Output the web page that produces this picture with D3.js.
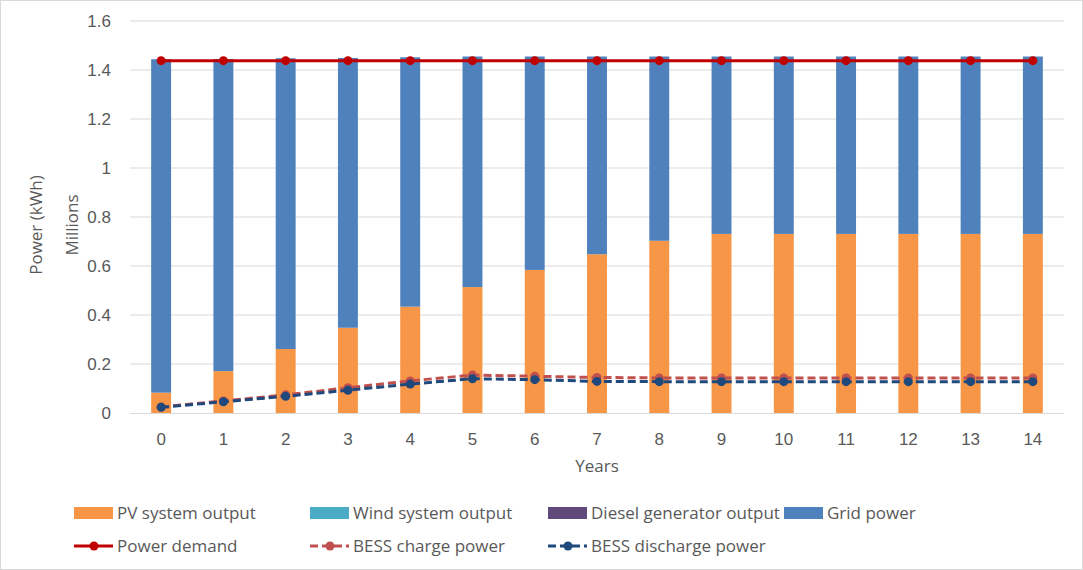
<!DOCTYPE html>
<html>
<head>
<meta charset="utf-8">
<script src="https://cdn.jsdelivr.net/npm/d3@7/dist/d3.min.js"></script>
<style>
  html, body { margin: 0; padding: 0; background: #fff; }
  svg { display: block; font-family: "Open Sans", Lato, "Liberation Sans", sans-serif; }
</style>
</head>
<body>
<svg id="chart" width="1083" height="570"></svg>
<script>
// Years on the horizontal axis
const years = [0, 1, 2, 3, 4, 5, 6, 7, 8, 9, 10, 11, 12, 13, 14];

// Energy sources, millions of kWh per year
const pvOutput     = [0.083, 0.171, 0.261, 0.348, 0.434, 0.514, 0.584, 0.648, 0.703, 0.731, 0.731, 0.731, 0.731, 0.731, 0.731];
const windOutput   = [0, 0, 0, 0, 0, 0, 0, 0, 0, 0, 0, 0, 0, 0, 0];
const dieselOutput = [0, 0, 0, 0, 0, 0, 0, 0, 0, 0, 0, 0, 0, 0, 0];
const gridPower    = [1.361, 1.274, 1.187, 1.101, 1.018, 0.941, 0.871, 0.807, 0.752, 0.724, 0.724, 0.724, 0.724, 0.724, 0.724];

// Demand and battery flows, millions of kWh per year
const powerDemand    = [1.438, 1.438, 1.438, 1.438, 1.438, 1.438, 1.438, 1.438, 1.438, 1.438, 1.438, 1.438, 1.438, 1.438, 1.438];
const bessCharge     = [0.025, 0.049, 0.074, 0.103, 0.131, 0.155, 0.150, 0.145, 0.143, 0.143, 0.143, 0.143, 0.143, 0.143, 0.143];
const bessDischarge  = [0.023, 0.046, 0.068, 0.093, 0.118, 0.140, 0.136, 0.129, 0.128, 0.128, 0.128, 0.128, 0.128, 0.128, 0.128];

const yTicks = [0, 0.2, 0.4, 0.6, 0.8, 1, 1.2, 1.4, 1.6];

const barSeries = [
  { key: "pv",     name: "PV system output",        color: "#F79646", values: pvOutput },
  { key: "wind",   name: "Wind system output",      color: "#4BACC6", values: windOutput },
  { key: "diesel", name: "Diesel generator output", color: "#604A7B", values: dieselOutput },
  { key: "grid",   name: "Grid power",              color: "#4F81BD", values: gridPower }
];
const lineSeries = [
  { key: "charge",    name: "BESS charge power",    color: "#C0504D", values: bessCharge,    dash: "8,4", width: 3, r: 4.5 },
  { key: "discharge", name: "BESS discharge power", color: "#1F497D", values: bessDischarge, dash: "8,4", width: 3, r: 4.5 },
  { key: "demand",    name: "Power demand",         color: "#C00000", values: powerDemand,   dash: null,  width: 3, r: 4.5 }
];

const svg = d3.select("#chart");
const W = 1083, H = 570;
const plot = { left: 130, right: 1064, top: 21, bottom: 413 };
const textColor = "#595959";
const gridColor = "#D9D9D9";
const fontSize = "17px";

// Outer frame
svg.append("rect").attr("x", 0.5).attr("y", 0.5).attr("width", W - 1).attr("height", H - 1)
  .attr("fill", "#fff").attr("stroke", "#D9D9D9");

const x = d3.scaleBand().domain(years).range([plot.left, plot.right]).paddingInner(0.68).paddingOuter(0.34);
const y = d3.scaleLinear().domain([0, 1.6]).range([plot.bottom, plot.top]);

// Horizontal gridlines
svg.append("g").selectAll("line").data(yTicks.filter(d => d > 0)).join("line")
  .attr("x1", plot.left).attr("x2", plot.right)
  .attr("y1", d => y(d)).attr("y2", d => y(d))
  .attr("stroke", gridColor).attr("stroke-width", 1);

// Y axis labels
const yAxis = d3.axisLeft(y).tickValues(yTicks).tickSize(0).tickPadding(0).tickFormat(d3.format("~g"));
const gy = svg.append("g").attr("transform", `translate(${plot.left - 19},0)`).call(yAxis);
gy.select(".domain").remove();
gy.selectAll("text").attr("fill", textColor).style("font-size", fontSize).style("font-family", "inherit");

// Stacked bars
const rows = years.map((yr, i) => {
  const r = { year: yr };
  barSeries.forEach(s => { r[s.key] = s.values[i]; });
  return r;
});
const stack = d3.stack().keys(barSeries.map(s => s.key));
const layers = stack(rows);
svg.append("g").selectAll("g").data(layers).join("g")
  .attr("fill", (d, i) => barSeries[i].color)
  .selectAll("rect").data(d => d).join("rect")
  .attr("x", d => x(d.data.year))
  .attr("width", x.bandwidth())
  .attr("y", d => y(d[1]))
  .attr("height", d => y(d[0]) - y(d[1]));

// X axis
const xAxis = d3.axisBottom(x).tickSize(0).tickPadding(20);
const gx = svg.append("g").attr("transform", `translate(0,${plot.bottom})`).call(xAxis);
gx.select(".domain").attr("stroke", gridColor).attr("d", `M${plot.left},0.5H${plot.right}`);
gx.selectAll("text").attr("fill", textColor).style("font-size", fontSize).style("font-family", "inherit");

// Lines with markers
lineSeries.forEach(s => {
  const line = d3.line().x((d, i) => x(years[i]) + x.bandwidth() / 2).y(d => y(d));
  const g = svg.append("g");
  g.append("path").datum(s.values)
    .attr("d", line).attr("fill", "none")
    .attr("stroke", s.color).attr("stroke-width", s.width)
    .attr("stroke-dasharray", s.dash);
  g.selectAll("circle").data(s.values).join("circle")
    .attr("cx", (d, i) => x(years[i]) + x.bandwidth() / 2)
    .attr("cy", d => y(d))
    .attr("r", s.r).attr("fill", s.color);
});

// Axis titles
svg.append("text").attr("transform", `translate(42,${(plot.top + plot.bottom) / 2 + 8}) rotate(-90)`)
  .attr("text-anchor", "middle").attr("fill", textColor).style("font-size", fontSize).text("Power (kWh)");
svg.append("text").attr("transform", `translate(78,${(plot.top + plot.bottom) / 2 + 8}) rotate(-90)`)
  .attr("text-anchor", "middle").attr("fill", textColor).style("font-size", fontSize).text("Millions");
svg.append("text").attr("x", (plot.left + plot.right) / 2).attr("y", 472)
  .attr("text-anchor", "middle").attr("fill", textColor).style("font-size", fontSize).text("Years");

// Legend
const legendItems = [
  { type: "bar",  s: barSeries[0], x: 74,  y: 513 },
  { type: "bar",  s: barSeries[1], x: 310, y: 513 },
  { type: "bar",  s: barSeries[2], x: 548, y: 513 },
  { type: "bar",  s: barSeries[3], x: 784, y: 513 },
  { type: "line", s: lineSeries[2], x: 74,  y: 546 },
  { type: "line", s: lineSeries[0], x: 310, y: 546 },
  { type: "line", s: lineSeries[1], x: 548, y: 546 }
];
const lg = svg.append("g").selectAll("g").data(legendItems).join("g")
  .attr("transform", d => `translate(${d.x},${d.y})`);
lg.each(function(d) {
  const g = d3.select(this);
  if (d.type === "bar") {
    g.append("rect").attr("x", 0).attr("y", -6).attr("width", 39).attr("height", 12).attr("fill", d.s.color);
  } else {
    g.append("line").attr("x1", 0).attr("x2", 39).attr("y1", 0).attr("y2", 0)
      .attr("stroke", d.s.color).attr("stroke-width", 3)
      .attr("stroke-dasharray", d.s.dash ? "8,4" : null);
    g.append("circle").attr("cx", 20).attr("cy", 0).attr("r", 4.5).attr("fill", d.s.color);
  }
  g.append("text").attr("x", 43).attr("y", 6).attr("fill", textColor)
    .style("font-size", fontSize).text(d.s.name);
});
</script>
</body>
</html>
